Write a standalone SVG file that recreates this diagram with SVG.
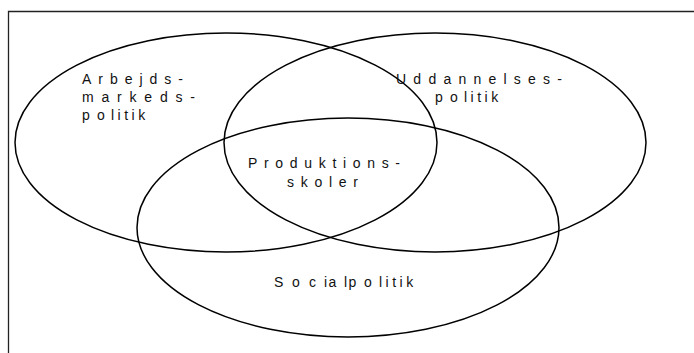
<svg xmlns="http://www.w3.org/2000/svg" width="694" height="353" viewBox="0 0 694 353">
<style>
.frame{fill:none;stroke:#222;stroke-width:1.3}
.ell{fill:none;stroke:#000;stroke-width:1.5}
.lbl{font-family:"Liberation Sans",Arial,sans-serif;font-size:14px;fill:#111}
.tight{letter-spacing:3.5px}
</style>
<rect width="694" height="353" fill="#fff"/>
<g id="frame">
<polyline class="frame" points="8.5,353 8.5,11.5 694,11.5"/>
</g>
<g id="connectors"></g>
<g id="arbejdsmarkedspolitik">
<ellipse class="ell" cx="226" cy="142.5" rx="211" ry="109.5"/>
<text class="lbl" x="82" y="84" textLength="101" lengthAdjust="spacing">Arbejds-</text>
<text class="lbl" x="82" y="102" textLength="113" lengthAdjust="spacing">markeds-</text>
<text class="lbl" y="120"><tspan x="82">p</tspan><tspan x="97">o</tspan><tspan x="111" class="tight">litik</tspan></text>
</g>
<g id="uddannelsespolitik">
<ellipse class="ell" cx="435" cy="142.5" rx="211" ry="109.5"/>
<text class="lbl" x="396" y="84" textLength="166" lengthAdjust="spacing">Uddannelses-</text>
<text class="lbl" y="102"><tspan x="435">p</tspan><tspan x="450">o</tspan><tspan x="464" class="tight">litik</tspan></text>
</g>
<g id="socialpolitik">
<ellipse class="ell" cx="348" cy="227.5" rx="211" ry="109.5"/>
<text class="lbl" y="287"><tspan x="274">S</tspan><tspan x="292">o</tspan><tspan x="309">c</tspan><tspan x="324" letter-spacing="1.5">ia</tspan><tspan x="344" letter-spacing="1.5">lp</tspan><tspan x="364">o</tspan><tspan x="379" class="tight">litik</tspan></text>
</g>
<g id="produktionsskoler">
<text class="lbl" x="248" y="168" textLength="152" lengthAdjust="spacing">Produktions-</text>
<text class="lbl" x="287" y="187" textLength="71" lengthAdjust="spacing">skoler</text>
</g>
</svg>
